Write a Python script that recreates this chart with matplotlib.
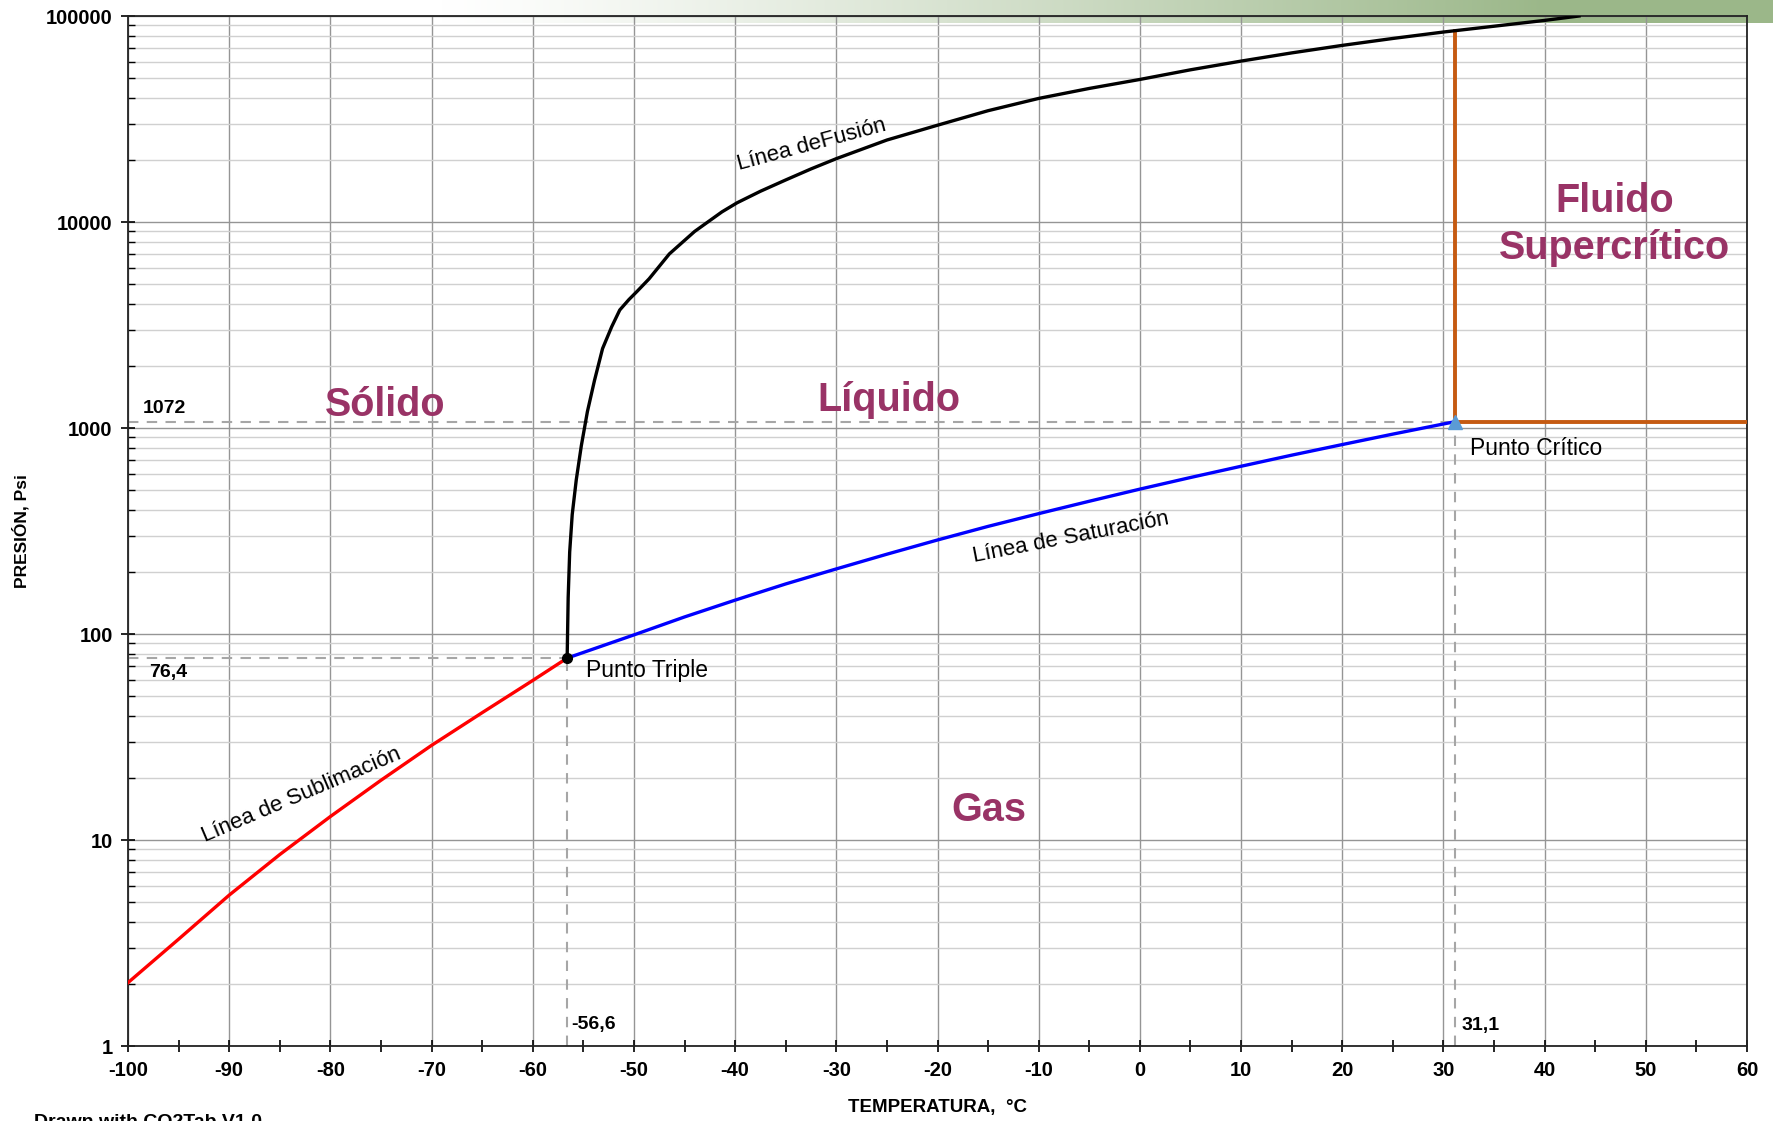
import numpy as np
import matplotlib.pyplot as plt
from matplotlib.ticker import MultipleLocator, LogLocator, FuncFormatter, NullFormatter

plt.rcParams['font.family'] = ['Liberation Sans', 'DejaVu Sans']
plt.rcParams['axes.unicode_minus'] = False

# CO2 phase boundaries (temperature in °C, pressure in psi)
sub_T = [-100, -95, -90, -85, -80, -75, -70, -65, -60, -56.6]
sub_P = [2.03, 3.3, 5.4, 8.5, 13.0, 19.5, 28.8, 41.5, 59.5, 76.4]

sat_T = [-56.6, -50, -45, -40, -35, -30, -25, -20, -15, -10, -5, 0, 5, 10, 15, 20, 25, 30, 31.1]
sat_P = [76.4, 99, 121, 146, 175, 207, 244, 286, 333, 384, 441, 505, 575, 652, 738, 831, 934, 1046, 1072]

fus_T = [-56.6, -56.5, -56.35, -56.1, -55.7, -55.2, -54.6, -53.9, -53.1, -52.2, -51.4,
         -50.5, -49.7, -48.5, -46.5, -44, -41.3, -39.8, -37.5, -35, -32.5, -30, -25,
         -20, -15, -10, -5, 0, 5, 10, 15, 20, 25, 30, 35, 40, 43.4]
fus_P = [76.4, 150, 250, 380, 560, 820, 1200, 1700, 2430, 3100, 3740,
         4200, 4600, 5300, 7000, 9000, 11200, 12400, 14100, 16000, 18100, 20300, 25000,
         29500, 34700, 39800, 44500, 49200, 54800, 60400, 66200, 72000, 77800, 83600,
         89200, 95200, 100000]

triple_T, triple_P = -56.6, 76.4
crit_T, crit_P = 31.1, 1072
crit_top_P = 85000
T_min, T_max = -100, 60
P_min, P_max = 1, 100000

regions = ['Sólido', 'Líquido', 'Gas', 'Fluido\nSupercrítico']
region_T = [-74.6, -24.8, -14.9, 46.9]
region_P = [1300, 1360, 14, 9770]

fig = plt.figure(figsize=(17.73, 11.21), dpi=100)

# green gradient band along the top edge
band = fig.add_axes([0, 1 - 23 / 1121, 1, 23 / 1121], zorder=0)
xs = np.linspace(0, 1, 600)
t = np.clip((xs - 0.25) / 0.62, 0, 1) ** 1.2
green = np.array([0.61, 0.72, 0.54])
rgb = (1 - t)[:, None] * np.ones(3) + t[:, None] * green
band.imshow(rgb[None, :, :], aspect='auto', extent=[0, 1, 0, 1])
band.axis('off')

ax = fig.add_axes([128 / 1773, 1 - 1046 / 1121, (1747 - 128) / 1773, (1046 - 16) / 1121], zorder=1)
ax.set_facecolor('none')
ax.set_yscale('log')
ax.set_xlim(T_min, T_max)
ax.set_ylim(P_min, P_max)

# reference lines through triple and critical points
dash = dict(color='#a6a6a6', lw=1.5, ls=(0, (5, 4)), zorder=2)
ax.plot([T_min, crit_T], [crit_P, crit_P], **dash)
ax.plot([crit_T, crit_T], [P_min, crit_P], **dash)
ax.plot([T_min, triple_T], [triple_P, triple_P], **dash)
ax.plot([triple_T, triple_T], [P_min, triple_P], **dash)

ax.plot(sub_T, sub_P, color='#ff0000', lw=2.4, zorder=4)
ax.plot(sat_T, sat_P, color='#0000ff', lw=2.4, zorder=4)
ax.plot([crit_T, crit_T], [crit_P, crit_top_P], color='#c55a11', lw=2.8, zorder=3)
ax.plot([crit_T, T_max], [crit_P, crit_P], color='#c55a11', lw=2.8, zorder=3)
ax.plot(fus_T, fus_P, color='black', lw=2.4, zorder=5)

ax.plot(triple_T, triple_P, 'o', color='black', ms=7, zorder=6)
ax.plot(crit_T, crit_P, '^', color='#5b9bd5', ms=10, zorder=6)

# grid
ax.xaxis.set_major_locator(MultipleLocator(10))
ax.xaxis.set_minor_locator(MultipleLocator(5))
ax.yaxis.set_major_locator(LogLocator(base=10))
ax.yaxis.set_minor_locator(LogLocator(base=10, subs=np.arange(2, 10)))
ax.yaxis.set_major_formatter(FuncFormatter(lambda v, p: f'{v:.0f}'))
ax.yaxis.set_minor_formatter(NullFormatter())
ax.grid(True, which='major', axis='both', color='#959595', lw=1.0, zorder=1)
ax.grid(True, which='minor', axis='y', color='#d0d0d0', lw=1.0, zorder=1)
ax.set_axisbelow(True)

ax.tick_params(axis='x', which='both', direction='inout', length=9, width=1.2, pad=6)
ax.tick_params(axis='y', which='major', direction='inout', length=10, width=1.2, pad=6)
ax.tick_params(axis='y', which='minor', direction='in', length=5, width=1.0)
for lab in ax.get_xticklabels() + ax.get_yticklabels():
    lab.set_fontsize(14.5)
    lab.set_fontweight('bold')
for sp in ax.spines.values():
    sp.set_color('#222222')
    sp.set_linewidth(1.3)

ax.set_xlabel('TEMPERATURA,  °C', fontsize=13.5, fontweight='bold', labelpad=14)
ax.set_ylabel('PRESIÓN, Psi', fontsize=12.5, fontweight='bold', labelpad=12)

# values at the triple and critical points
ax.text(T_min + 1.5, crit_P * 1.16, '1072', fontsize=14, fontweight='bold', va='center')
ax.text(T_min + 2.1, triple_P * 0.85, '76,4', fontsize=14, fontweight='bold', va='center')
ax.text(triple_T + 0.4, 1.27, '-56,6', fontsize=14, fontweight='bold', va='center')
ax.text(crit_T + 0.7, 1.26, '31,1', fontsize=14, fontweight='bold', va='center')

ax.text(triple_T + 1.85, triple_P * 0.87, 'Punto Triple', fontsize=16.5, va='center')
ax.text(crit_T + 1.5, crit_P * 0.74, 'Punto Crítico', fontsize=16.5, va='center')

ax.text(-32.4, 23700, 'Línea deFusión', fontsize=16, rotation=15, ha='center', va='center')
ax.text(-82.9, 16.5, 'Línea de Sublimación', fontsize=16, rotation=23, ha='center', va='center')
ax.text(-6.8, 295, 'Línea de Saturación', fontsize=16, rotation=11, ha='center', va='center')

for name, rt, rp in zip(regions, region_T, region_P):
    ax.text(rt, rp, name, fontsize=28.5, fontweight='bold', color='#993366',
            ha='center', va='center', linespacing=1.3, zorder=7)

fig.text(34 / 1773, 1 - 1114 / 1121, 'Drawn with CO2Tab V1.0', fontsize=14,
         fontweight='bold', va='top', ha='left')

fig.savefig('out.png', dpi=100)
